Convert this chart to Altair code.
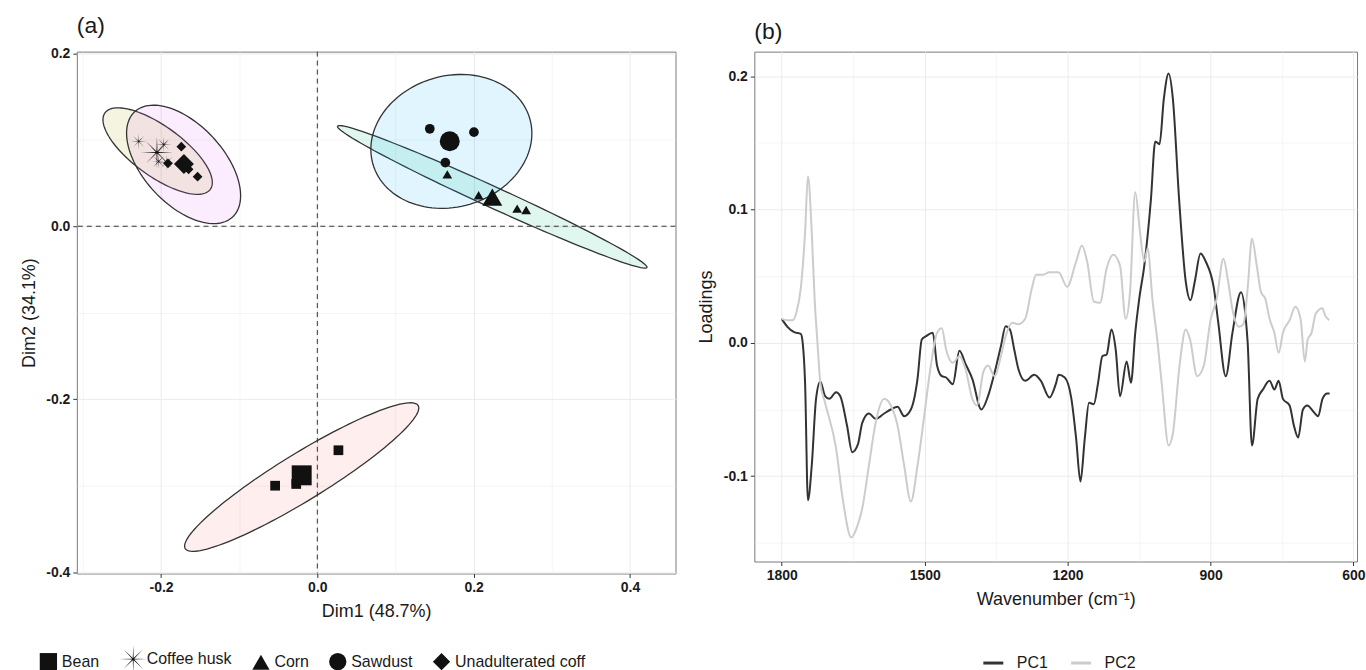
import altair as alt
import pandas as pd
import numpy as np

FONT = "Liberation Sans"

# ---------------- Panel (a): PCA individuals ----------------
groups = ["Bean", "Coffee husk", "Corn", "Sawdust", "Unadulterated coff"]
zone_colors = ["#F8766D", "#A3A500", "#00BF7D", "#00B0F6", "#E76BF3"]

obs_group = (["Bean"] * 3 + ["Coffee husk"] * 4 + ["Corn"] * 4
             + ["Sawdust"] * 3 + ["Unadulterated coff"] * 4)
obs_x = [-0.054, -0.027, 0.027,
         -0.2285, -0.1966, -0.1928, -0.2030,
         0.1663, 0.2064, 0.2557, 0.2672,
         0.1439, 0.2004, 0.1638,
         -0.1740, -0.1911, -0.1532, -0.1647]
obs_y = [-0.300, -0.298, -0.259,
         0.0981, 0.0946, 0.0738, 0.0750,
         0.0600, 0.0358, 0.0204, 0.0188,
         0.1127, 0.1088, 0.0735,
         0.0920, 0.0727, 0.0573, 0.0658]
mean_x = [-0.020, -0.2052, 0.2239, 0.1694, -0.1707]
mean_y = [-0.288, 0.0854, 0.0337, 0.0983, 0.0719]

# confidence ellipses: centre and two conjugate half-axis vectors (data units)
ell_cx = [-0.0200, -0.2043, 0.2238, 0.1715, -0.1711]
ell_cy = [-0.2900, 0.0869, 0.0340, 0.0981, 0.0715]
ell_ux = [0.1490, 0.0674, 0.1979, 0.1003, 0.0627]
ell_uy = [0.0827, -0.0442, -0.0817, 0.0265, -0.0608]
ell_vx = [0.0157, -0.0188, -0.0056, 0.0235, -0.0373]
ell_vy = [-0.0232, -0.0234, -0.0110, -0.0727, -0.0315]

# ---------------- Panel (b): loadings ----------------
pc1_wn = [1800, 1788, 1774, 1760, 1756, 1751, 1745, 1737, 1728, 1719, 1709, 1700, 1686, 1677, 1663,
          1652, 1640, 1631, 1617, 1603, 1585, 1571, 1557, 1543, 1529, 1515, 1506, 1497, 1483, 1474,
          1464, 1455, 1441, 1427, 1414, 1400, 1381, 1367, 1353, 1340, 1330, 1321, 1312, 1303, 1289,
          1270, 1256, 1238, 1224, 1219, 1206, 1192, 1182, 1173, 1164, 1155, 1145, 1136, 1127, 1118,
          1108, 1099, 1090, 1076, 1067, 1058, 1050, 1039, 1025, 1016, 1007, 998, 988, 979, 966,
          952, 942, 933, 921, 910, 893, 884, 868, 854, 836, 826, 822, 813, 801, 790,
          776, 766, 757, 748, 734, 725, 716, 706, 697, 683, 674, 665, 655, 650]
pc1 = [0.018, 0.012, 0.008, 0.0067, 0.0, -0.030, -0.118, -0.092, -0.042, -0.029, -0.040, -0.042, -0.037, -0.040, -0.062,
       -0.082, -0.076, -0.060, -0.053, -0.057, -0.053, -0.050, -0.048, -0.055, -0.050, -0.027, 0.0025, 0.005, 0.0075, -0.017,
       -0.025, -0.026, -0.031, -0.006, -0.016, -0.027, -0.050, -0.040, -0.022, -0.0025, 0.0124, 0.010, -0.005, -0.020, -0.0285,
       -0.024, -0.0285, -0.041, -0.030, -0.024, -0.026, -0.042, -0.072, -0.104, -0.072, -0.045, -0.046, -0.030, -0.010, -0.0087,
       0.010, -0.005, -0.040, -0.014, -0.030, 0.0075, 0.032, 0.058, 0.108, 0.151, 0.149, 0.183, 0.202, 0.183, 0.108,
       0.046, 0.032, 0.046, 0.067, 0.061, 0.041, 0.016, -0.025, 0.0075, 0.038, 0.018, 0.0, -0.077, -0.042, -0.035,
       -0.0285, -0.035, -0.0285, -0.042, -0.047, -0.062, -0.071, -0.050, -0.047, -0.052, -0.055, -0.042, -0.038, -0.038]

pc2_wn = [1800, 1788, 1777, 1769, 1760, 1751, 1745, 1737, 1731, 1725, 1719, 1709, 1686, 1672, 1654,
          1640, 1631, 1617, 1603, 1585, 1571, 1557, 1543, 1529, 1515, 1501, 1487, 1474, 1464, 1455,
          1441, 1427, 1414, 1400, 1390, 1377, 1367, 1353, 1340, 1330, 1316, 1303, 1289, 1275, 1266,
          1252, 1238, 1219, 1201, 1182, 1170, 1159, 1145, 1132, 1118, 1104, 1090, 1078, 1069, 1058,
          1048, 1039, 1032, 1022, 1011, 1002, 988, 979, 965, 952, 943, 928, 914, 900, 887,
          873, 863, 854, 840, 831, 822, 813, 803, 794, 785, 776, 766, 757, 748, 734,
          722, 711, 702, 696, 688, 679, 665, 660, 651]
pc2 = [0.018, 0.017, 0.017, 0.023, 0.041, 0.083, 0.125, 0.083, 0.033, 0.0, -0.030, -0.045, -0.079, -0.117, -0.146,
       -0.136, -0.124, -0.092, -0.060, -0.042, -0.047, -0.062, -0.092, -0.119, -0.092, -0.055, -0.017, 0.0075, 0.011, -0.005,
       -0.015, -0.010, -0.020, -0.042, -0.047, -0.022, -0.017, -0.025, -0.010, 0.005, 0.015, 0.014, 0.018, 0.041, 0.051,
       0.051, 0.053, 0.053, 0.042, 0.061, 0.073, 0.061, 0.031, 0.030, 0.056, 0.066, 0.058, 0.018, 0.038, 0.113,
       0.083, 0.061, 0.071, 0.033, 0.0, -0.032, -0.077, -0.068, -0.017, 0.010, 0.0025, -0.025, -0.017, 0.017, 0.033,
       0.063, 0.046, 0.025, 0.012, 0.014, 0.041, 0.078, 0.058, 0.038, 0.033, 0.018, 0.0075, -0.0075, 0.0075, 0.017,
       0.027, 0.018, -0.014, 0.0025, 0.0075, 0.022, 0.026, 0.021, 0.017]

# ---------------- build tables ----------------
t = np.linspace(0, 2 * np.pi, 121)
ell_frames = []
for i, g in enumerate(groups):
    ell_frames.append(pd.DataFrame({
        "group": g,
        "t": np.arange(len(t)),
        "x": ell_cx[i] + ell_ux[i] * np.cos(t) + ell_vx[i] * np.sin(t),
        "y": ell_cy[i] + ell_uy[i] * np.cos(t) + ell_vy[i] * np.sin(t),
    }))

pts = pd.concat([
    pd.DataFrame({"group": obs_group, "x": obs_x, "y": obs_y, "kind": "obs"}),
    pd.DataFrame({"group": groups, "x": mean_x, "y": mean_y, "kind": "mean"}),
], ignore_index=True)

# asterisk symbol (8 thin spokes) as an SVG path
ang_o = np.deg2rad(np.arange(0, 360, 45))
ang_i = ang_o + np.deg2rad(22.5)
star = []
for ao, ai in zip(ang_o, ang_i):
    star.append(f"{1.6*np.cos(ao):.3f},{1.6*np.sin(ao):.3f}")
    star.append(f"{0.13*np.cos(ai):.3f},{0.13*np.sin(ai):.3f}")
asterisk = "M" + "L".join(star) + "Z"
shape_range = ["square", asterisk, "triangle-up", "circle", "diamond"]

major_a = "round(datum.value*10)%2==0"
fmt = "replace(format(datum.value,'.1f'),'\u2212','-')"

X_a = alt.X("x:Q", title="Dim1 (48.7%)",
            scale=alt.Scale(domain=[-0.3077, 0.4583], nice=False, zero=False),
            axis=alt.Axis(values=[-0.3, -0.2, -0.1, 0, 0.1, 0.2, 0.3, 0.4],
                          labelExpr=f"{major_a} ? {fmt} : ''",
                          tickColor={"condition": {"test": major_a, "value": "#333333"}, "value": "transparent"},
                          gridWidth={"condition": {"test": major_a, "value": 1}, "value": 0.5}))
Y_a = alt.Y("y:Q", title="Dim2 (34.1%)",
            scale=alt.Scale(domain=[-0.4015, 0.2019], nice=False, zero=False),
            axis=alt.Axis(values=[-0.4, -0.3, -0.2, -0.1, 0, 0.1, 0.2], titlePadding=7,
                          labelExpr=f"{major_a} ? {fmt} : ''",
                          tickColor={"condition": {"test": major_a, "value": "#333333"}, "value": "transparent"},
                          gridWidth={"condition": {"test": major_a, "value": 1}, "value": 0.5}))

layers = []
for i, g in enumerate(groups):
    layers.append(
        alt.Chart(ell_frames[i]).mark_line(
            interpolate="linear-closed", fill=zone_colors[i], fillOpacity=0.12,
            stroke="#333333", strokeWidth=1.3
        ).encode(x=X_a, y=Y_a, order="t:Q")
    )

rule_v = alt.Chart(pd.DataFrame({"x": [0.0]})).mark_rule(
    strokeDash=[5, 4], color="#333333", strokeWidth=1).encode(x=X_a)
rule_h = alt.Chart(pd.DataFrame({"y": [0.0]})).mark_rule(
    strokeDash=[5, 4], color="#333333", strokeWidth=1).encode(y=Y_a)

points = alt.Chart(pts).mark_point(filled=True, color="#111111", opacity=1).encode(
    x=X_a, y=Y_a,
    shape=alt.Shape("group:N", scale=alt.Scale(domain=groups, range=shape_range),
                    legend=alt.Legend(orient="none", legendX=-38, legendY=599,
                                      direction="horizontal", title=None,
                                      symbolSize=300, symbolFillColor="#111111",
                                      symbolStrokeColor="#111111",
                                      labelFontSize=16, columnPadding=16, labelLimit=300)),
    size=alt.Size("kind:N", scale=alt.Scale(domain=["obs", "mean"], range=[95, 400]), legend=None),
)

panel_a = alt.layer(*layers, rule_v, rule_h, points).properties(
    width=600, height=523, title="(a)")

# ---------------- panel b ----------------
lines = pd.concat([
    pd.DataFrame({"series": "PC1", "wn": pc1_wn, "val": pc1}),
    pd.DataFrame({"series": "PC2", "wn": pc2_wn, "val": pc2}),
], ignore_index=True)

major_bx = "datum.value%300==0"
major_by = "round(datum.value*20)%2==0"

panel_b = alt.Chart(lines).mark_line(strokeWidth=2, interpolate="monotone").encode(
    x=alt.X("wn:Q", title="Wavenumber (cm\u207b\u00b9)",
            scale=alt.Scale(domain=[592.5, 1857.5], reverse=True, nice=False, zero=False),
            axis=alt.Axis(values=list(range(600, 1801, 150)),
                          labelExpr=f"{major_bx} ? datum.value : ''",
                          tickColor={"condition": {"test": major_bx, "value": "#333333"}, "value": "transparent"},
                          gridWidth={"condition": {"test": major_bx, "value": 1}, "value": 0.5})),
    y=alt.Y("val:Q", title="Loadings",
            scale=alt.Scale(domain=[-0.164, 0.2184], nice=False, zero=False),
            axis=alt.Axis(values=[-0.15, -0.1, -0.05, 0, 0.05, 0.1, 0.15, 0.2],
                          labelExpr=f"{major_by} ? {fmt} : ''",
                          tickColor={"condition": {"test": major_by, "value": "#333333"}, "value": "transparent"},
                          gridWidth={"condition": {"test": major_by, "value": 1}, "value": 0.5})),
    color=alt.Color("series:N", scale=alt.Scale(domain=["PC1", "PC2"], range=["#333333", "#cccccc"]),
                    legend=alt.Legend(orient="none", legendX=228, legendY=601,
                                      direction="horizontal", title=None,
                                      symbolType="stroke", symbolStrokeWidth=3, symbolSize=400,
                                      labelOffset=12, labelFontSize=16, columnPadding=16)),
    detail="series:N",
).properties(width=604, height=511, title="(b)")

chart = alt.hconcat(panel_a, panel_b, spacing=20).resolve_scale(
    shape="independent", color="independent", size="independent"
).properties(
    padding={"left": 20, "top": 14, "right": 0, "bottom": 0}
).configure_axis(
    labelFont=FONT, labelFontSize=14, labelFontWeight="bold", labelColor="#1a1a1a",
    titleFont=FONT, titleFontSize=18, titleFontWeight="normal", titleColor="#1a1a1a",
    domain=False, tickSize=4, tickWidth=1, grid=True, gridColor="#ebebeb",
    labelPadding=3, titlePadding=8,
).configure_view(
    stroke="#7a7a7a", strokeWidth=1
).configure_title(
    font=FONT, fontSize=23, fontWeight="normal", anchor="start", frame="group",
    color="#1a1a1a", offset=8
).configure_legend(
    labelFont=FONT, labelColor="#1a1a1a"
)

chart.save("out.html", embed_options={"renderer": "svg", "actions": False})
